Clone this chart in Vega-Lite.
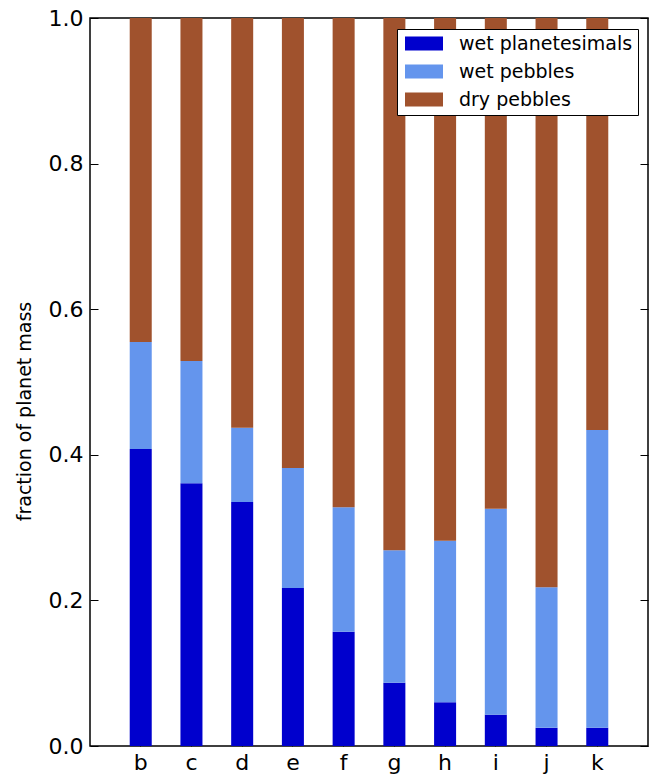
{
  "$schema": "https://vega.github.io/schema/vega-lite/v6.json",
  "width": 558,
  "height": 728,
  "autosize": {"type": "none"},
  "padding": {"left": 90, "top": 18, "right": 17, "bottom": 30},
  "config": {
    "font": "DejaVu Sans",
    "view": {"stroke": "black", "strokeWidth": 1.5},
    "axis": {"domain": false, "grid": false, "labelColor": "black", "labelFontSize": 22, "tickColor": "black", "tickSize": -8, "tickWidth": 1, "titleFontWeight": "normal", "titleColor": "black", "titleFontSize": 19}
  },
  "data": {
    "values": [
      {"planet": "b", "component": "wet planetesimals", "o": 1, "value": 0.408},
      {"planet": "b", "component": "wet pebbles", "o": 2, "value": 0.147},
      {"planet": "b", "component": "dry pebbles", "o": 3, "value": 0.445},
      {"planet": "c", "component": "wet planetesimals", "o": 1, "value": 0.361},
      {"planet": "c", "component": "wet pebbles", "o": 2, "value": 0.168},
      {"planet": "c", "component": "dry pebbles", "o": 3, "value": 0.471},
      {"planet": "d", "component": "wet planetesimals", "o": 1, "value": 0.335},
      {"planet": "d", "component": "wet pebbles", "o": 2, "value": 0.102},
      {"planet": "d", "component": "dry pebbles", "o": 3, "value": 0.563},
      {"planet": "e", "component": "wet planetesimals", "o": 1, "value": 0.217},
      {"planet": "e", "component": "wet pebbles", "o": 2, "value": 0.165},
      {"planet": "e", "component": "dry pebbles", "o": 3, "value": 0.618},
      {"planet": "f", "component": "wet planetesimals", "o": 1, "value": 0.157},
      {"planet": "f", "component": "wet pebbles", "o": 2, "value": 0.171},
      {"planet": "f", "component": "dry pebbles", "o": 3, "value": 0.672},
      {"planet": "g", "component": "wet planetesimals", "o": 1, "value": 0.087},
      {"planet": "g", "component": "wet pebbles", "o": 2, "value": 0.182},
      {"planet": "g", "component": "dry pebbles", "o": 3, "value": 0.731},
      {"planet": "h", "component": "wet planetesimals", "o": 1, "value": 0.060},
      {"planet": "h", "component": "wet pebbles", "o": 2, "value": 0.222},
      {"planet": "h", "component": "dry pebbles", "o": 3, "value": 0.718},
      {"planet": "i", "component": "wet planetesimals", "o": 1, "value": 0.043},
      {"planet": "i", "component": "wet pebbles", "o": 2, "value": 0.283},
      {"planet": "i", "component": "dry pebbles", "o": 3, "value": 0.674},
      {"planet": "j", "component": "wet planetesimals", "o": 1, "value": 0.025},
      {"planet": "j", "component": "wet pebbles", "o": 2, "value": 0.193},
      {"planet": "j", "component": "dry pebbles", "o": 3, "value": 0.782},
      {"planet": "k", "component": "wet planetesimals", "o": 1, "value": 0.025},
      {"planet": "k", "component": "wet pebbles", "o": 2, "value": 0.409},
      {"planet": "k", "component": "dry pebbles", "o": 3, "value": 0.566}
    ]
  },
  "layer": [
    {
      "mark": {"type": "bar"},
      "encoding": {
        "x": {"field": "planet", "type": "nominal", "sort": null,
          "scale": {"paddingInner": 0.566, "paddingOuter": 0.783},
          "axis": {"orient": "bottom", "title": null, "labelAngle": 0, "labelPadding": 14}},
        "y": {"field": "value", "type": "quantitative", "stack": "zero",
          "scale": {"domain": [0, 1], "nice": false, "zero": true},
          "axis": {"orient": "left", "title": "fraction of planet mass", "values": [0, 0.2, 0.4, 0.6, 0.8, 1.0], "format": ".1f", "labelPadding": 15, "titlePadding": 14, "titleY": 393}},
        "color": {"field": "component", "type": "nominal",
          "scale": {"domain": ["wet planetesimals", "wet pebbles", "dry pebbles"], "range": ["#0000CD", "#6495ED", "#A0522D"]},
          "legend": {"orient": "none", "legendX": 307, "legendY": 11, "title": null, "padding": 5, "strokeColor": "black", "fillColor": "white", "cornerRadius": 0, "labelFontSize": 19, "labelColor": "black", "symbolType": "M-2,-0.74H2V0.74H-2Z", "symbolSize": 361, "symbolStrokeWidth": 0, "symbolOffset": 12.5, "labelOffset": 25.5, "rowPadding": 8, "labelLimit": 300}},
        "order": {"field": "o", "type": "quantitative"}
      }
    },
    {
      "mark": {"type": "point", "opacity": 0},
      "encoding": {
        "x": {"field": "planet", "type": "nominal", "sort": null,
          "axis": {"orient": "top", "title": null, "labels": false}},
        "y": {"field": "value", "type": "quantitative", "stack": null,
          "axis": {"orient": "right", "title": null, "labels": false, "values": [0, 0.2, 0.4, 0.6, 0.8, 1.0]}}
      }
    }
  ],
  "resolve": {"axis": {"x": "independent", "y": "independent"}}
}
